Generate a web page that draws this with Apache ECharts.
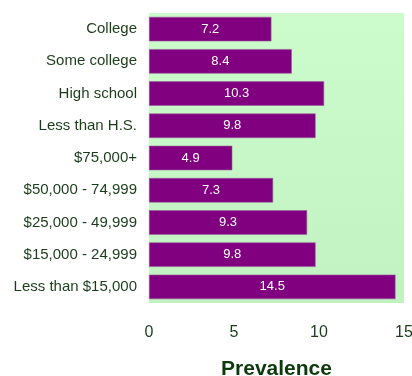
<!DOCTYPE html>
<html><head><meta charset="utf-8">
<script src="https://cdn.jsdelivr.net/npm/echarts@6/dist/echarts.min.js"></script>
<style>html,body{margin:0;padding:0;background:#fff}#c{width:412px;height:376px}</style>
</head><body><div id="c"></div>
<script>
const categories = ["College","Some college","High school","Less than H.S.","$75,000+","$50,000 - 74,999","$25,000 - 49,999","$15,000 - 24,999","Less than $15,000"];
const values = [7.2, 8.4, 10.3, 9.8, 4.9, 7.3, 9.3, 9.8, 14.5];
const xTicks = [0, 5, 10, 15];
const chart = echarts.init(document.getElementById('c'));
chart.setOption({
  animation:false,
  grid:{left:149,right:8,top:13,bottom:73,containLabel:false,outerBoundsMode:'none',show:true,borderWidth:0,
    backgroundColor:new echarts.graphic.LinearGradient(0,0,0,1,[{offset:0,color:'#ccfccc'},{offset:1,color:'#c2f2c2'}])},
  xAxis:{type:'value',min:xTicks[0],max:xTicks[xTicks.length-1],interval:5,
    axisLine:{show:false},axisTick:{show:false},splitLine:{show:false},
    axisLabel:{color:'#1a3d1a',fontFamily:'Liberation Sans, Arial',fontSize:16,margin:22},
    name:'Prevalence',nameLocation:'middle',nameGap:56,
    nameTextStyle:{color:'#0d3a0d',fontFamily:'Liberation Sans, Arial',fontSize:21,fontWeight:'bold'}},
  yAxis:{type:'category',data:categories,inverse:true,
    axisLine:{show:false},axisTick:{show:false},
    axisLabel:{color:'#1a3d1a',fontFamily:'Liberation Sans, Arial',fontSize:15,margin:12}},
  series:[{type:'bar',data:values,barWidth:'76%',
    itemStyle:{color:'#800080',borderColor:'#9a5a9a',borderWidth:0.6},
    label:{show:true,position:'inside',color:'#ffffff',fontFamily:'Liberation Sans, Arial',fontSize:13,
      formatter:p=>p.value.toFixed(1)}}]
});
</script></body></html>
